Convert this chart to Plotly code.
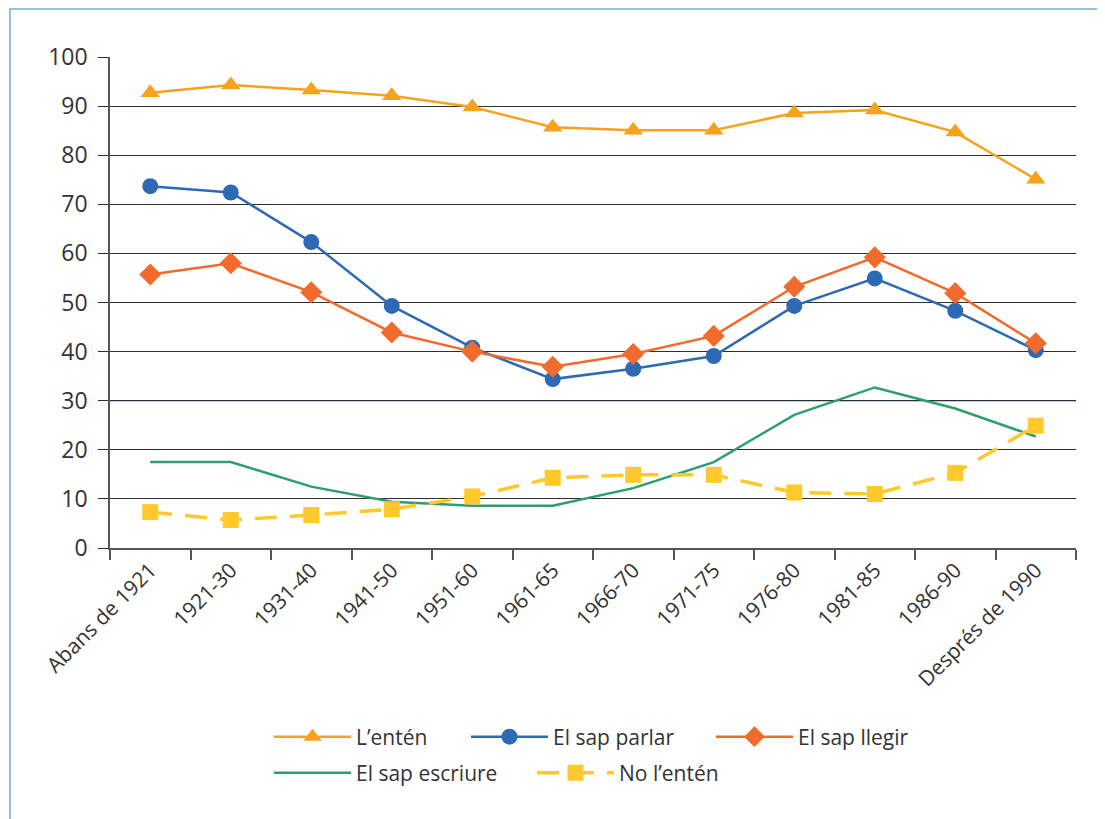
import plotly.graph_objects as go

categories = ["Abans de 1921", "1921-30", "1931-40", "1941-50", "1951-60", "1961-65",
              "1966-70", "1971-75", "1976-80", "1981-85", "1986-90", "Després de 1990"]

lenten = [92.7, 94.3, 93.3, 92.1, 89.8, 85.7, 85.1, 85.1, 88.6, 89.2, 84.7, 75.1]
sap_parlar = [73.7, 72.4, 62.3, 49.3, 40.8, 34.4, 36.5, 39.1, 49.3, 54.9, 48.3, 40.3]
sap_llegir = [55.7, 58.0, 52.1, 43.9, 40.0, 36.9, 39.5, 43.2, 53.2, 59.2, 51.9, 41.7]
sap_escriure = [17.5, 17.5, 12.5, 9.4, 8.6, 8.6, 12.2, 17.5, 27.1, 32.7, 28.4, 22.7]
no_lenten = [7.3, 5.7, 6.7, 7.9, 10.5, 14.3, 14.9, 14.9, 11.3, 11.0, 15.3, 24.9]

FONT = "Open Sans"
TXT = "#333333"

fig = go.Figure()
fig.add_trace(go.Scatter(x=categories, y=lenten, name="L’entén", mode="lines+markers",
                         line=dict(color="#F7A21B", width=2.5),
                         marker=dict(symbol="triangle-up", size=17, color="#F7A21B"),
                         legend="legend", showlegend=True))
fig.add_trace(go.Scatter(x=categories, y=sap_parlar, name="El sap parlar", mode="lines+markers",
                         line=dict(color="#2E69B3", width=2.5),
                         marker=dict(symbol="circle", size=16, color="#2E69B3"),
                         legend="legend2", showlegend=True))
fig.add_trace(go.Scatter(x=categories, y=sap_llegir, name="El sap llegir", mode="lines+markers",
                         line=dict(color="#F26B2C", width=2.5),
                         marker=dict(symbol="diamond", size=17, color="#F26B2C"),
                         legend="legend3", showlegend=True))
fig.add_trace(go.Scatter(x=categories, y=sap_escriure, name="El sap escriure", mode="lines",
                         line=dict(color="#2E9E6F", width=2.5),
                         legend="legend4", showlegend=True))
fig.add_trace(go.Scatter(x=categories, y=no_lenten, name="No l’entén", mode="lines+markers",
                         line=dict(color="#FFC92B", width=3.5, dash="22px,13px"),
                         marker=dict(symbol="square", size=16, color="#FFC92B"),
                         legend="legend5", showlegend=True))

W, H = 1105, 819
L, T, R_EDGE, B_EDGE = 102, 49, 1068, 540
PW, PH = R_EDGE - L, B_EDGE - T


def leg(px_x, px_y):
    return dict(orientation="h", x=(px_x - 6 - L) / PW, xanchor="left",
                y=(B_EDGE - px_y) / PH, yanchor="middle",
                font=dict(size=21, color=TXT, family=FONT), itemwidth=77,
                bgcolor="rgba(0,0,0,0)")


fig.update_layout(
    width=W, height=H, showlegend=True,
    margin=dict(l=L, r=W - R_EDGE, t=T, b=H - B_EDGE),
    plot_bgcolor="white", paper_bgcolor="white",
    font=dict(family=FONT, size=21, color=TXT),
    xaxis=dict(type="category", range=[-0.5, 11.5], tickangle=-45,
               showline=True, linecolor="#555555", linewidth=1.5,
               ticks="outside", ticklen=10, tickcolor="#555555", tickwidth=1.5,
               tickson="boundaries", showgrid=False,
               tickfont=dict(size=21, color=TXT, family=FONT)),
    yaxis=dict(range=[0, 100], dtick=10, showgrid=True, gridcolor="#2f2f2f", gridwidth=1.3,
               showline=True, linecolor="#555555", linewidth=1.5,
               ticks="outside", ticklen=10, tickcolor="#2f2f2f", tickwidth=1.3,
               ticklabelstandoff=6,
               zeroline=False, tickfont=dict(size=23, color=TXT, family=FONT)),
    legend=leg(267, 729),
    legend2=leg(464, 729),
    legend3=leg(709, 729),
    legend4=leg(267, 765),
    legend5=leg(530, 765),
    shapes=[
        dict(type="line", xref="paper", yref="y", x0=0, x1=1, y0=30, y1=30,
             line=dict(color="#6C9BD6", width=1.5), layer="below"),
        dict(type="rect", xref="paper", yref="paper",
             x0=(2 - L) / PW, x1=1.2, y0=-0.7, y1=(B_EDGE - 1) / PH,
             line=dict(color="#7AAAD9", width=1.5), fillcolor="rgba(0,0,0,0)", layer="below"),
    ],
)

fig.write_html("out.html")
